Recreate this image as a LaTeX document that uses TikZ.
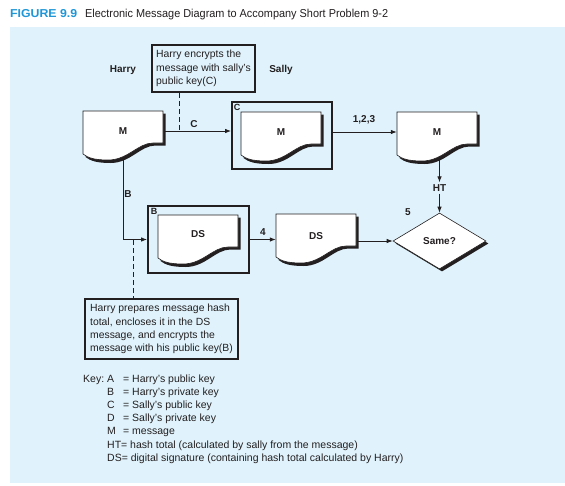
\documentclass[tikz,border=0pt]{standalone}
\usepackage{fontspec}
\usepackage{graphicx}
\setmainfont{Liberation Sans}
\usetikzlibrary{arrows.meta,shapes.geometric,shadows}
\definecolor{bgblue}{RGB}{224,243,252}
\definecolor{titleblue}{RGB}{30,150,215}
\definecolor{ink}{RGB}{35,31,32}
\pgfdeclarelayer{back}
\pgfdeclarelayer{mid}
\pgfsetlayers{back,mid,main}
\tikzset{
  lbl/.style={font=\fontsize{10}{12}\selectfont\bfseries, inner sep=0pt, text=ink},
  corner/.style={font=\fontsize{9}{10}\selectfont\bfseries, inner sep=0pt, text=ink},
  docnode/.style={minimum width=80pt, minimum height=40pt, inner sep=0pt, font=\fontsize{10}{12}\selectfont\bfseries, text=ink},
  frame/.style={draw=ink, line width=1.8pt, inner sep=0pt},
  note/.style={draw=ink, line width=1.6pt, align=left, font=\fontsize{10.4}{13.2}\selectfont, inner sep=0pt, text=ink},
  conn/.style={line width=0.8pt, draw=ink},
  arr/.style={conn, -{Latex[length=6pt,width=4.5pt]}},
  dashline/.style={conn, dash pattern=on 5pt off 3pt},
}
\newcommand\docshape[2]{%
  \begin{scope}[shift={(#1,#2)}]
    \fill[ink] (2.5,2.5) -- (82.5,2.5) -- (82.5,34.5) -- (72.5,34.5) .. controls (57.5,34.5) and (47.5,52) .. (27.5,52) .. controls (14.5,52) and (7.5,50) .. (2.5,46) -- cycle;
    \filldraw[fill=white, draw=ink, line width=0.6pt] (0,0) -- (80,0) -- (80,32) -- (70,32) .. controls (55,32) and (45,49) .. (25,49) .. controls (12,49) and (5,47) .. (0,43) -- cycle;
  \end{scope}}
\begin{document}
\begin{tikzpicture}[x=1pt,y=-1pt]
\useasboundingbox (0,0) rectangle (565,485);
\begin{pgfonlayer}{back}
  \fill[white] (0,0) rectangle (565,485);
  \fill[bgblue] (10,27) rectangle (565,483);
\end{pgfonlayer}

% title
\node[anchor=base west, inner sep=0pt, text=titleblue, font=\fontsize{11.5}{13}\selectfont\bfseries] (fig) at (10,17) {\resizebox{67pt}{\height}{FIGURE 9.9}};
\node[anchor=base west, inner sep=0pt, text=ink, font=\fontsize{11.5}{13}\selectfont] (title) at (85,17) {\resizebox{303pt}{\height}{Electronic Message Diagram to Accompany Short Problem 9-2}};

% documents
\docshape{83}{111}
\docshape{241}{112}
\docshape{397}{112}
\docshape{158}{215}
\docshape{276}{214}
\node[docnode] (m1) at (123,131) {M};
\node[docnode] (m2) at (281,132) {M};
\node[docnode] (m3) at (437,132) {M};
\node[docnode] (ds1) at (198,234) {DS};
\node[docnode] (ds2) at (316,236) {DS};

% frames
\node[frame, minimum width=100pt, minimum height=67pt] (cf) at (282,135.5) {};
\node[frame, minimum width=101pt, minimum height=67pt] (bf) at (198.5,239.5) {};
\node[corner] (cfl) at (237,107.5) {C};
\node[corner] (bfl) at (154,211.5) {B};

% diamond
\node[diamond, draw=ink, line width=0.6pt, fill=white, minimum width=93pt, minimum height=56pt, lbl,
      drop shadow={shadow xshift=2.5pt, shadow yshift=-2.5pt, fill=ink, opacity=1}] (dia) at (439.5,241) {Same?};

% notes
\node[note, minimum width=103pt, minimum height=47pt] (n1) at (203.5,68.5) {Harry encrypts the\\message with sally's\\public key(C)};
\node[note, minimum width=153pt, minimum height=60pt] (n2) at (161.5,329) {Harry prepares message hash\\total, encloses it in the DS\\message, and encrypts the\\message with his public key(B)};

% labels
\node[lbl] (harry) at (123,70) {Harry};
\node[lbl] (sally) at (281,70) {Sally};
\node[lbl] (lc) at (194,124.5) {C};
\node[lbl] (l123) at (364,120) {1,2,3};
\node[lbl] (lb) at (128,194) {B};
\node[lbl] (l4) at (263,232) {4};
\node[lbl] (l5) at (408,212) {5};
\node[lbl] (ht) at (439.5,188) {HT};

% key
\node[anchor=base west, inner sep=0pt, text=ink, font=\fontsize{10.5}{13.2}\selectfont] (key) at (83,382) {\begin{tabular}[t]{@{}l@{}l@{}}
\makebox[24pt][l]{Key:} & \makebox[16pt][l]{A}= Harry's public key\\
 & \makebox[16pt][l]{B}= Harry's private key\\
 & \makebox[16pt][l]{C}= Sally's public key\\
 & \makebox[16pt][l]{D}= Sally's private key\\
 & \makebox[16pt][l]{M}= message\\
 & HT= hash total (calculated by sally from the message)\\
 & DS= digital signature (containing hash total calculated by Harry)
\end{tabular}};

\coordinate (c1) at (179,131);
\coordinate (c2) at (133,240);

% connectors
\begin{pgfonlayer}{mid}
  \draw[arr] (m1.center) -- (m1.east -| cf.west);
  \draw[dashline] (c1 |- n1.south) -- (c1);
  \draw[arr] (cf.east |- m3.west) -- (m3.west);
  \draw[arr] (m3.center -| ht.north) -- ([yshift=2pt]ht.north);
  \draw[arr] ([yshift=-2pt]ht.south) -- (dia.north);
  \draw[arr] (m1.center) |- (bf.west);
  \draw[dashline] (c2) -- (c2 |- n2.north);
  \draw[arr] (bf.east) -- (bf.east -| ds2.west);
  \draw[arr] (ds2.center |- dia.west) -- (dia.west);
\end{pgfonlayer}
\end{tikzpicture}
\end{document}
